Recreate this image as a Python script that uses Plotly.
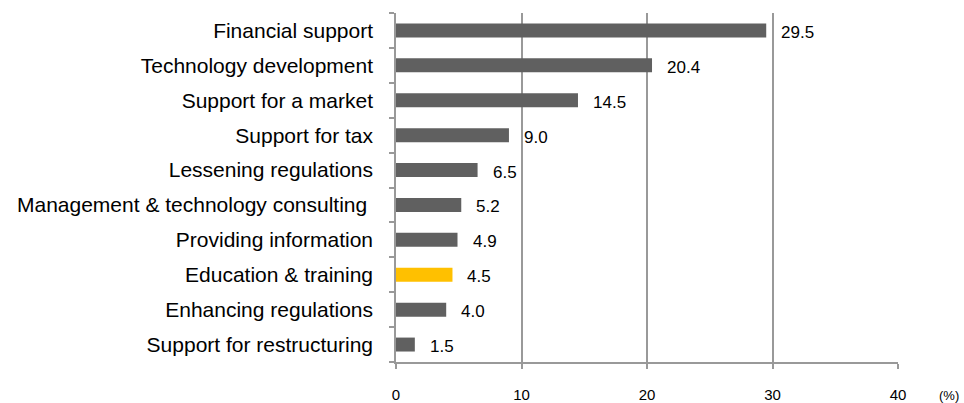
import plotly.graph_objects as go

categories = ["Financial support", "Technology development", "Support for a market",
              "Support for tax", "Lessening regulations", "Management & technology consulting ",
              "Providing information", "Education & training", "Enhancing regulations",
              "Support for restructuring"]
values = [29.5, 20.4, 14.5, 9.0, 6.5, 5.2, 4.9, 4.5, 4.0, 1.5]
highlight = "Education & training"
x_ticks = [0, 10, 20, 30, 40]

colors = ["#FFC000" if c == highlight else "#606060" for c in categories]

fig = go.Figure(go.Bar(
    x=values, y=categories, orientation="h",
    marker=dict(color=colors, line=dict(width=0)),
    width=0.4, hoverinfo="skip",
))

for c, v in zip(categories, values):
    fig.add_annotation(x=v, y=c, text=f"{v:.1f}", showarrow=False,
                       xanchor="left", xshift=13, yshift=-2,
                       font=dict(family="Arial, Liberation Sans", size=17, color="#000"))

fig.add_annotation(x=1, y=0, xref="paper", yref="paper", text="(%)", showarrow=False,
                   xanchor="left", yanchor="top", xshift=39, yshift=-24,
                   font=dict(family="Arial, Liberation Sans", size=13, color="#000"))

fig.update_layout(
    width=964, height=403,
    margin=dict(l=396, r=66, t=13, b=41),
    plot_bgcolor="white", paper_bgcolor="white",
    showlegend=False,
    font=dict(family="Arial, Liberation Sans", color="#000"),
    xaxis=dict(range=[0, 40], tickvals=x_ticks, showgrid=True, gridcolor="#999999", gridwidth=1.5,
               showline=True, linecolor="#999999", linewidth=1.5, ticks="outside", ticklen=5,
               tickcolor="#999999", tickwidth=1.5, tickfont=dict(size=15), ticklabelstandoff=13,
               zeroline=False, fixedrange=True, automargin=False),
    yaxis=dict(categoryorder="array", categoryarray=categories[::-1], autorange=False,
               range=[-0.5, 9.5], tickson="boundaries", ticks="outside", ticklen=5,
               tickcolor="#999999", tickwidth=1.5, showline=True, linecolor="#999999",
               linewidth=1.5, showgrid=False, tickfont=dict(size=21), ticklabelstandoff=17,
               automargin=False),
)

fig.write_html("out.html")
